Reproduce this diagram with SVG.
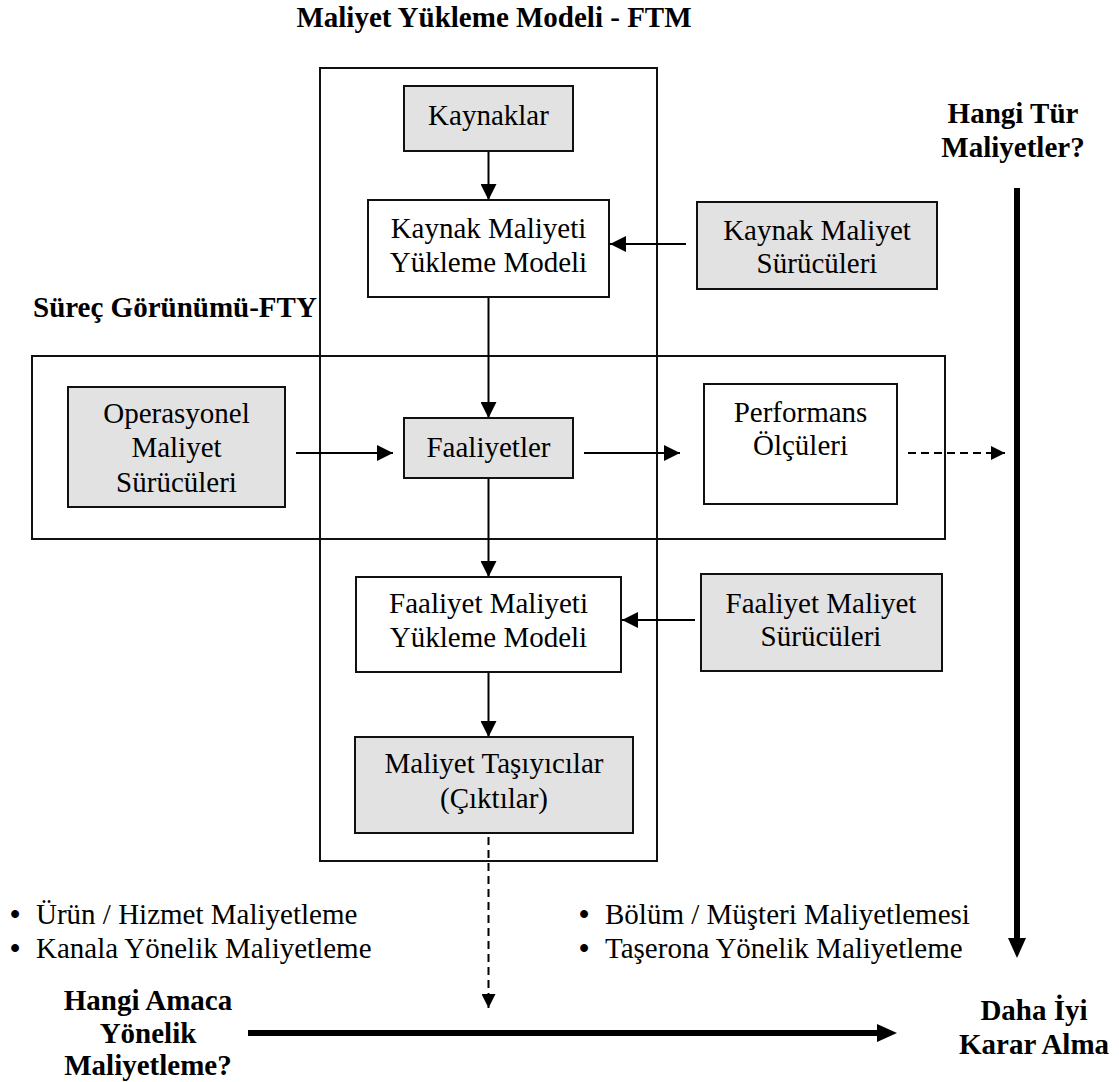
<svg xmlns="http://www.w3.org/2000/svg" width="1119" height="1082" viewBox="0 0 1119 1082">
  <style>
    text { font-family: "Liberation Serif", "Times New Roman", serif; font-size: 29px; fill: #000; }
    .b { font-weight: bold; }
    .c { text-anchor: middle; }
    .dot { font-weight: bold; }
    .box { fill: #fff; stroke: #111; stroke-width: 2; }
    .gray { fill: #e2e2e2; stroke: #111; stroke-width: 2; }
    .frame { fill: none; stroke: #111; stroke-width: 2; }
    .ln { stroke: #000; stroke-width: 2; fill: none; }
    .dash { stroke: #000; stroke-width: 2; fill: none; stroke-dasharray: 8 5; }
    .thick { stroke: #000; stroke-width: 6; fill: none; }
  </style>
  <defs>
    <marker id="ah" markerUnits="userSpaceOnUse" markerWidth="16" markerHeight="16" refX="16" refY="8" orient="auto">
      <path d="M0,0 L16,8 L0,16 z" fill="#000"/>
    </marker>
    <marker id="ahs" markerUnits="userSpaceOnUse" markerWidth="14" markerHeight="14" refX="14" refY="7" orient="auto">
      <path d="M0,0 L14,7 L0,14 z" fill="#000"/>
    </marker>
    <marker id="ahb" markerUnits="userSpaceOnUse" markerWidth="20" markerHeight="18" refX="0" refY="9" orient="auto">
      <path d="M0,0 L20,9 L0,18 z" fill="#000"/>
    </marker>
  </defs>

  <rect width="1119" height="1082" fill="#fff"/>

  <!-- frames and headings -->
  <g id="ftm-frame">
    <rect class="frame" x="320" y="68" width="337" height="793"/>
    <text class="b" x="494" y="27" text-anchor="middle">Maliyet Yükleme Modeli - FTM</text>
  </g>
  <g id="fty-frame">
    <rect class="frame" x="32" y="356" width="913" height="183"/>
    <text class="b" x="33" y="317">Süreç Görünümü-FTY</text>
  </g>

  <!-- connectors -->
  <g id="connectors">
    <line class="ln" x1="488.5" y1="151" x2="488.5" y2="200" marker-end="url(#ah)"/>
    <line class="ln" x1="686" y1="244" x2="610" y2="244" marker-end="url(#ah)"/>
    <line class="ln" x1="488.5" y1="297" x2="488.5" y2="418" marker-end="url(#ah)"/>
    <line class="ln" x1="296" y1="453" x2="393" y2="453" marker-end="url(#ah)"/>
    <line class="ln" x1="584" y1="453" x2="680" y2="453" marker-end="url(#ah)"/>
    <line class="dash" x1="908" y1="453" x2="1005" y2="453" marker-end="url(#ahs)"/>
    <line class="ln" x1="488.5" y1="478" x2="488.5" y2="577" marker-end="url(#ah)"/>
    <line class="ln" x1="695" y1="620" x2="622" y2="620" marker-end="url(#ah)"/>
    <line class="ln" x1="488.5" y1="672" x2="488.5" y2="737" marker-end="url(#ah)"/>
    <line class="dash" x1="488.5" y1="837" x2="488.5" y2="1008" marker-end="url(#ahs)"/>
    <line class="thick" x1="1017" y1="188" x2="1017" y2="938" marker-end="url(#ahb)"/>
    <line class="thick" x1="248" y1="1033" x2="877" y2="1033" marker-end="url(#ahb)"/>
  </g>

  <!-- nodes -->
  <g id="kaynaklar">
    <rect class="gray" x="404" y="86" width="169" height="65"/>
    <text class="c" x="488.5" y="125">Kaynaklar</text>
  </g>
  <g id="kaynak-maliyeti-yukleme">
    <rect class="box" x="368" y="200" width="241" height="97"/>
    <text class="c" x="488.5" y="238">Kaynak Maliyeti</text>
    <text class="c" x="488.5" y="272">Yükleme Modeli</text>
  </g>
  <g id="kaynak-maliyet-suruculeri">
    <rect class="gray" x="697" y="202" width="240" height="87"/>
    <text class="c" x="817" y="240">Kaynak Maliyet</text>
    <text class="c" x="817" y="273">Sürücüleri</text>
  </g>
  <g id="operasyonel">
    <rect class="gray" x="68" y="387" width="217" height="120"/>
    <text class="c" x="176.5" y="423">Operasyonel</text>
    <text class="c" x="176.5" y="457">Maliyet</text>
    <text class="c" x="176.5" y="492">Sürücüleri</text>
  </g>
  <g id="faaliyetler">
    <rect class="gray" x="404" y="418" width="169" height="60"/>
    <text class="c" x="488.5" y="457">Faaliyetler</text>
  </g>
  <g id="performans">
    <rect class="box" x="704" y="384" width="193" height="120"/>
    <text class="c" x="800.5" y="422">Performans</text>
    <text class="c" x="800.5" y="455">Ölçüleri</text>
  </g>
  <g id="faaliyet-maliyeti-yukleme">
    <rect class="box" x="356" y="577" width="265" height="95"/>
    <text class="c" x="488.5" y="613">Faaliyet Maliyeti</text>
    <text class="c" x="488.5" y="647">Yükleme Modeli</text>
  </g>
  <g id="faaliyet-maliyet-suruculeri">
    <rect class="gray" x="701" y="574" width="241" height="97"/>
    <text class="c" x="821" y="613">Faaliyet Maliyet</text>
    <text class="c" x="821" y="646">Sürücüleri</text>
  </g>
  <g id="maliyet-tasiyicilar">
    <rect class="gray" x="355" y="737" width="278" height="96"/>
    <text class="c" x="494" y="773">Maliyet Taşıyıcılar</text>
    <text class="c" x="494" y="808">(Çıktılar)</text>
  </g>

  <!-- side labels -->
  <g id="hangi-tur">
    <text class="b c" x="1013" y="123">Hangi Tür</text>
    <text class="b c" x="1013" y="157">Maliyetler?</text>
  </g>
  <g id="bullets-left">
    <text x="10" y="924"><tspan class="dot">•</tspan><tspan x="36">Ürün / Hizmet Maliyetleme</tspan></text>
    <text x="10" y="958"><tspan class="dot">•</tspan><tspan x="36">Kanala Yönelik Maliyetleme</tspan></text>
  </g>
  <g id="bullets-right">
    <text x="579" y="924"><tspan class="dot">•</tspan><tspan x="605">Bölüm / Müşteri Maliyetlemesi</tspan></text>
    <text x="579" y="958"><tspan class="dot">•</tspan><tspan x="605">Taşerona Yönelik Maliyetleme</tspan></text>
  </g>
  <g id="hangi-amaca">
    <text class="b c" x="148" y="1010">Hangi Amaca</text>
    <text class="b c" x="148" y="1043">Yönelik</text>
    <text class="b c" x="148" y="1075">Maliyetleme?</text>
  </g>
  <g id="daha-iyi">
    <text class="b c" x="1034" y="1020">Daha İyi</text>
    <text class="b c" x="1034" y="1054">Karar Alma</text>
  </g>
</svg>
